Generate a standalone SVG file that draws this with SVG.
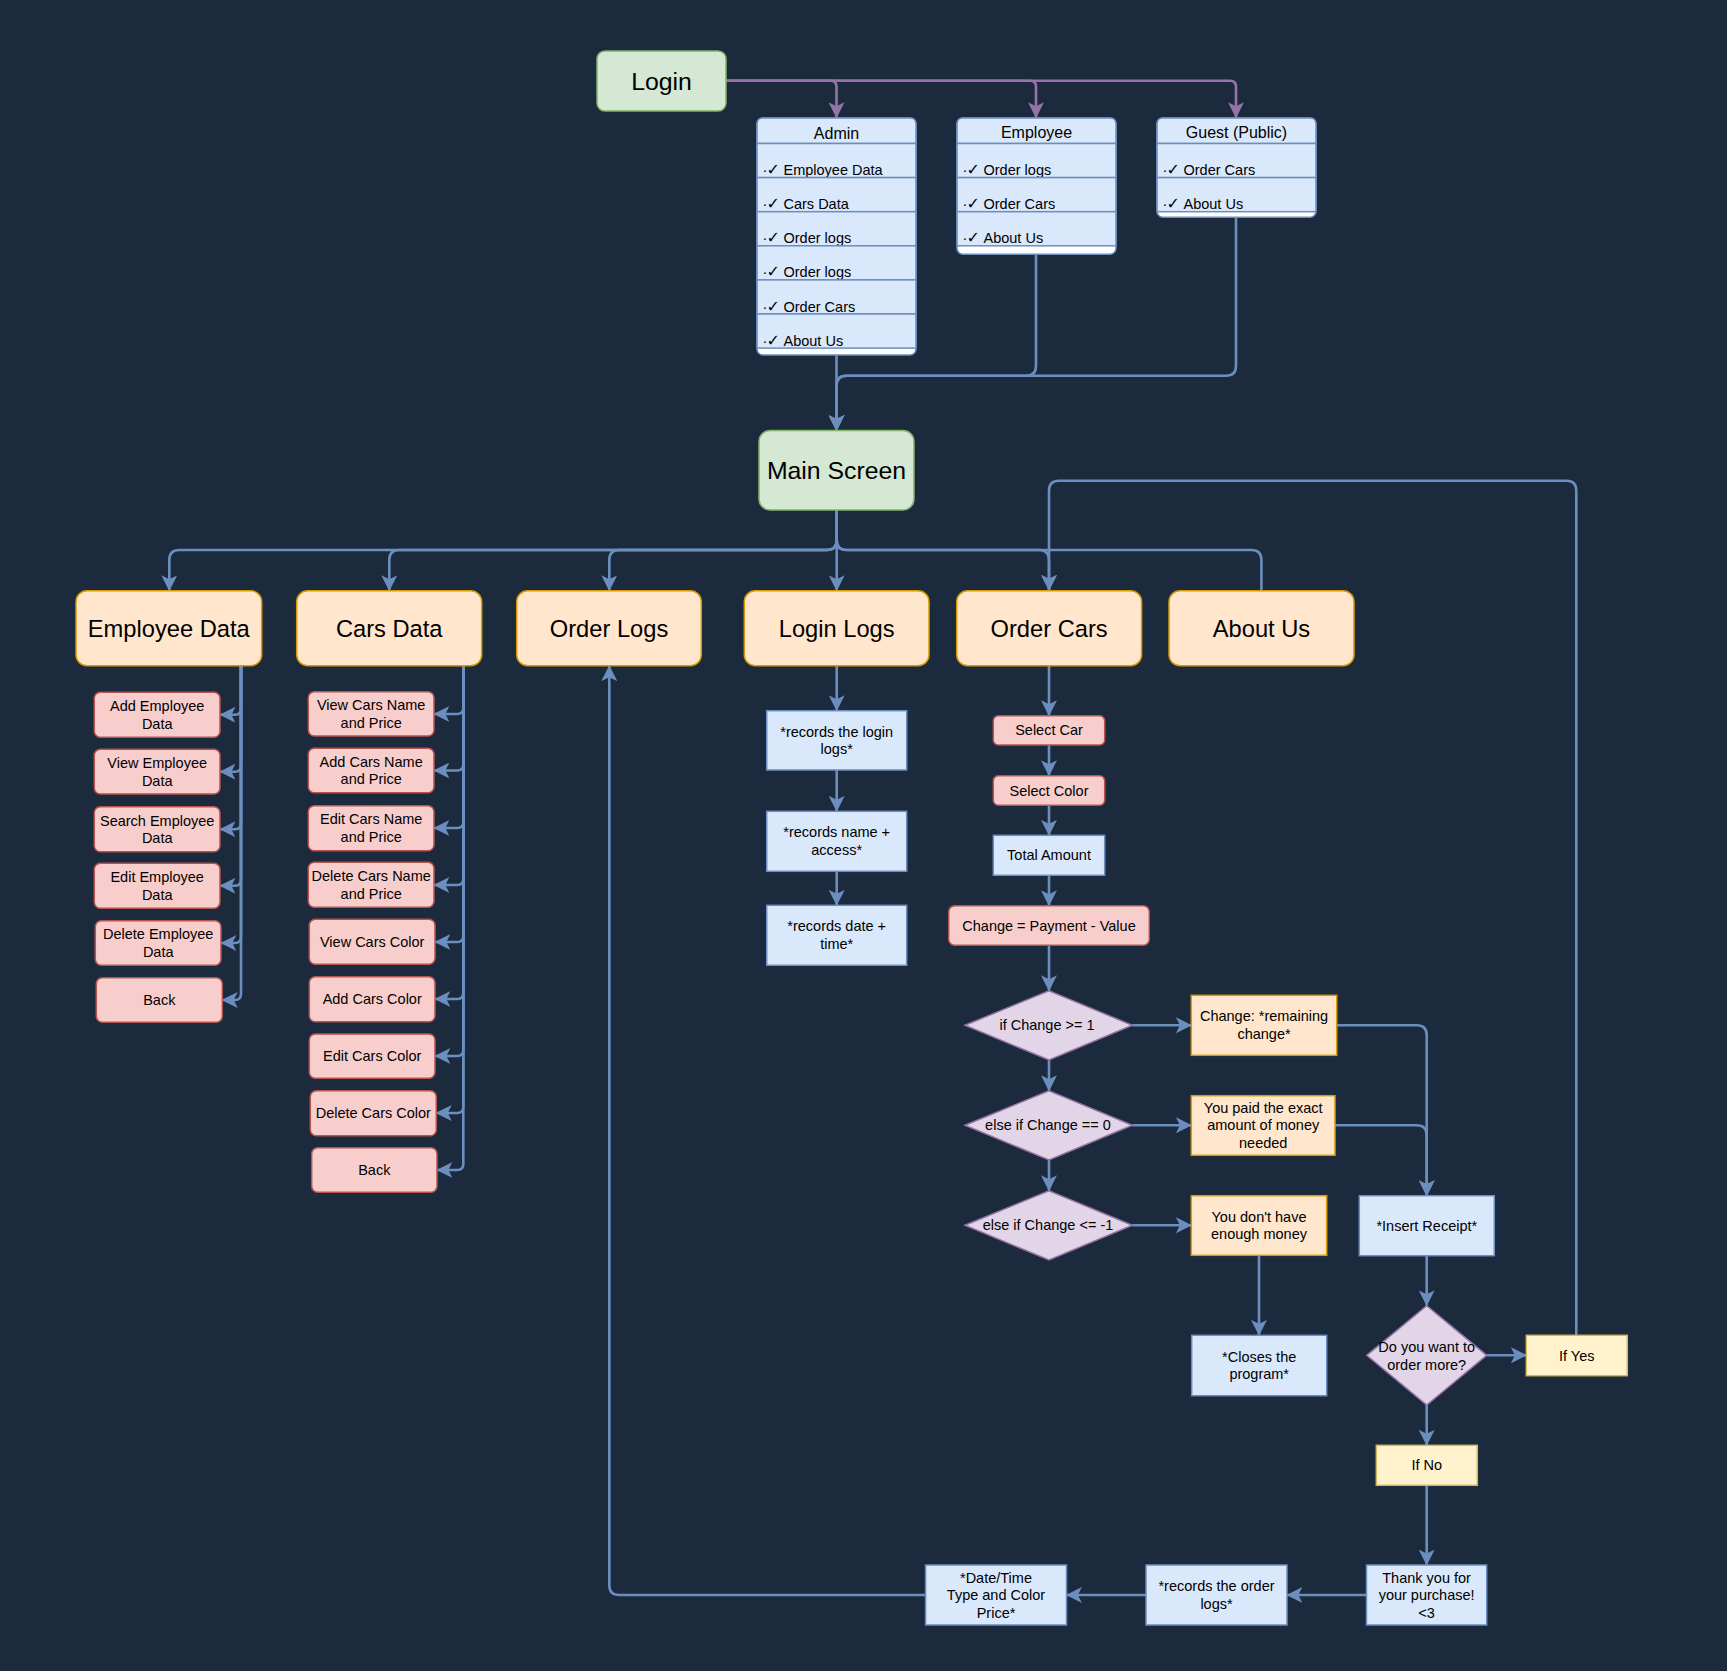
<svg xmlns="http://www.w3.org/2000/svg" width="1727" height="1671" viewBox="0 0 1727 1671">
<style>
text{font-family:"Liberation Sans",Arial,sans-serif;fill:#000;text-anchor:middle}
.s{font-size:14.5px}
.h{font-size:16px}
.cat{font-size:23.7px}
.big{font-size:24.8px}
.ck{font-family:"DejaVu Sans",sans-serif;font-size:16px;font-weight:bold;text-anchor:start}
.lt{font-size:14.5px;text-anchor:start}
.c{fill:none;stroke:#6c8ebf;stroke-width:2.6}
.p{fill:none;stroke:#9673a6;stroke-width:2.6}
.green{fill:#d5e8d4;stroke:#82b366;stroke-width:1.5}
.orange{fill:#ffe6cc;stroke:#d79b00;stroke-width:1.5}
.red{fill:#f8cecc;stroke:#b85450;stroke-width:1.5}
.blue{fill:#dae8fc;stroke:#6c8ebf;stroke-width:1.5}
.purple{fill:#e1d5e7;stroke:#9673a6;stroke-width:1.5}
.yellow{fill:#fff2cc;stroke:#d6b656;stroke-width:1.5}
.white{fill:#ffffff;stroke:#6c8ebf;stroke-width:1.5}
</style>
<defs>
<marker id="ab" markerUnits="userSpaceOnUse" markerWidth="16" markerHeight="16" viewBox="0 0 14 14" refX="13.5" refY="7" orient="auto"><path d="M0,0 L14,7 L0,14 L3.5,7 Z" fill="#6c8ebf"/></marker>
<marker id="ap" markerUnits="userSpaceOnUse" markerWidth="16" markerHeight="16" viewBox="0 0 14 14" refX="13.5" refY="7" orient="auto"><path d="M0,0 L14,7 L0,14 L3.5,7 Z" fill="#9673a6"/></marker>
</defs>
<rect x="0" y="0" width="1727" height="1671" fill="#1b2b3d"/>

<g id="connectors">
<path class="p" marker-end="url(#ap)" d="M726,80.7 H830.5 Q836.5,80.7 836.5,86.7 V117.7"/>
<path class="p" marker-end="url(#ap)" d="M726,80.7 H1030 Q1036,80.7 1036,86.7 V117.7"/>
<path class="p" marker-end="url(#ap)" d="M726,80.7 H1230 Q1236,80.7 1236,86.7 V117.7"/>

<path class="c" marker-end="url(#ab)" d="M836.5,355 V430.5"/>
<path class="c" marker-end="url(#ab)" d="M1036,254.3 V365.7 Q1036,375.7 1026,375.7 H846.5 Q836.5,375.7 836.5,385.7 V430.5"/>
<path class="c" marker-end="url(#ab)" d="M1236,217.3 V365.7 Q1236,375.7 1226,375.7 H846.5 Q836.5,375.7 836.5,385.7 V430.5"/>

<path class="c" marker-end="url(#ab)" d="M836.7,510 V540 Q836.7,550 826.7,550 H179.3 Q169.3,550 169.3,560 V590.7"/>
<path class="c" marker-end="url(#ab)" d="M836.7,510 V540 Q836.7,550 826.7,550 H399.3 Q389.3,550 389.3,560 V590.7"/>
<path class="c" marker-end="url(#ab)" d="M836.7,510 V540 Q836.7,550 826.7,550 H619.3 Q609.3,550 609.3,560 V590.7"/>
<path class="c" marker-end="url(#ab)" d="M836.7,510 V590.7"/>
<path class="c" marker-end="url(#ab)" d="M836.7,510 V540 Q836.7,550 846.7,550 H1039 Q1049,550 1049,560 V590.3"/>
<path class="c" d="M1261.4,590 V560 Q1261.4,550 1251.4,550 H846.7 Q836.7,550 836.7,540 V510"/>
<path class="c" marker-end="url(#ab)" d="M1576.3,1335.3 V490.7 Q1576.3,480.7 1566.3,480.7 H1059 Q1049,480.7 1049,490.7 V590.3"/>

<path class="c" marker-end="url(#ab)" d="M241,665.7 V708.8 Q241,714.8 235,714.8 H220"/>
<path class="c" marker-end="url(#ab)" d="M241,665.7 V765.7 Q241,771.7 235,771.7 H220"/>
<path class="c" marker-end="url(#ab)" d="M241,665.7 V823.2 Q241,829.2 235,829.2 H220"/>
<path class="c" marker-end="url(#ab)" d="M241,665.7 V879.8 Q241,885.8 235,885.8 H220"/>
<path class="c" marker-end="url(#ab)" d="M241,665.7 V937 Q241,943 235,943 H221"/>
<path class="c" marker-end="url(#ab)" d="M241,665.7 V994 Q241,1000 235,1000 H222.3"/>

<path class="c" marker-end="url(#ab)" d="M463.3,665.7 V708 Q463.3,714 457.3,714 H434"/>
<path class="c" marker-end="url(#ab)" d="M463.3,665.7 V764.5 Q463.3,770.5 457.3,770.5 H434"/>
<path class="c" marker-end="url(#ab)" d="M463.3,665.7 V822 Q463.3,828 457.3,828 H434"/>
<path class="c" marker-end="url(#ab)" d="M463.3,665.7 V879 Q463.3,885 457.3,885 H434"/>
<path class="c" marker-end="url(#ab)" d="M463.3,665.7 V936 Q463.3,942 457.3,942 H435"/>
<path class="c" marker-end="url(#ab)" d="M463.3,665.7 V993 Q463.3,999 457.3,999 H435"/>
<path class="c" marker-end="url(#ab)" d="M463.3,665.7 V1050 Q463.3,1056 457.3,1056 H435"/>
<path class="c" marker-end="url(#ab)" d="M463.3,665.7 V1107 Q463.3,1113 457.3,1113 H436.3"/>
<path class="c" marker-end="url(#ab)" d="M463.3,665.7 V1164 Q463.3,1170 457.3,1170 H437"/>

<path class="c" marker-end="url(#ab)" d="M836.7,665.7 V710.7"/>
<path class="c" marker-end="url(#ab)" d="M836.7,770 V811.3"/>
<path class="c" marker-end="url(#ab)" d="M836.7,871.3 V905.3"/>

<path class="c" marker-end="url(#ab)" d="M1049,665.7 V715.7"/>
<path class="c" marker-end="url(#ab)" d="M1049,745 V775.7"/>
<path class="c" marker-end="url(#ab)" d="M1049,805.3 V835.3"/>
<path class="c" marker-end="url(#ab)" d="M1049,875.3 V905.7"/>
<path class="c" marker-end="url(#ab)" d="M1049,945.3 V990.7"/>
<path class="c" marker-end="url(#ab)" d="M1049,1060 V1090.7"/>
<path class="c" marker-end="url(#ab)" d="M1049,1160 V1190.7"/>
<path class="c" marker-end="url(#ab)" d="M1132.3,1025.3 H1191.3"/>
<path class="c" marker-end="url(#ab)" d="M1132.3,1125.3 H1191.3"/>
<path class="c" marker-end="url(#ab)" d="M1132.3,1225.3 H1191.3"/>
<path class="c" marker-end="url(#ab)" d="M1336.7,1025.3 H1416.7 Q1426.7,1025.3 1426.7,1035.3 V1195.7"/>
<path class="c" marker-end="url(#ab)" d="M1335,1125.3 H1416.7 Q1426.7,1125.3 1426.7,1135.3 V1195.7"/>
<path class="c" marker-end="url(#ab)" d="M1259,1255.3 V1335.3"/>
<path class="c" marker-end="url(#ab)" d="M1426.7,1255.7 V1305.7"/>
<path class="c" marker-end="url(#ab)" d="M1486.7,1355.3 H1526.3"/>
<path class="c" marker-end="url(#ab)" d="M1426.7,1405 V1445.3"/>
<path class="c" marker-end="url(#ab)" d="M1426.7,1485.3 V1565"/>
<path class="c" marker-end="url(#ab)" d="M1366.5,1595 H1287"/>
<path class="c" marker-end="url(#ab)" d="M1146,1595 H1066.5"/>
<path class="c" marker-end="url(#ab)" d="M925.6,1595 H619.3 Q609.3,1595 609.3,1585 V665.7"/>
</g>

<g id="login"><rect class="green" x="597" y="51" width="129" height="60" rx="8"/><text class="big" x="661.5" y="89.6">Login</text></g>

<g id="admin">
<rect class="white" x="757" y="118" width="159" height="237" rx="6"/>
<path class="blue" d="M757,143.5 V124 Q757,118 763,118 H910 Q916,118 916,124 V143.5 Z"/>
<text class="h" x="836.5" y="138.5">Admin</text>
<rect class="blue" x="757" y="143.5" width="159" height="34.1"/><text class="lt" x="762.5" y="175.1">·</text><text class="ck" x="766.5" y="175.1">✓</text><text class="lt" x="783.5" y="175.1">Employee Data</text>
<rect class="blue" x="757" y="177.6" width="159" height="34.1"/><text class="lt" x="762.5" y="209.2">·</text><text class="ck" x="766.5" y="209.2">✓</text><text class="lt" x="783.5" y="209.2">Cars Data</text>
<rect class="blue" x="757" y="211.7" width="159" height="34.1"/><text class="lt" x="762.5" y="243.3">·</text><text class="ck" x="766.5" y="243.3">✓</text><text class="lt" x="783.5" y="243.3">Order logs</text>
<rect class="blue" x="757" y="245.8" width="159" height="34.1"/><text class="lt" x="762.5" y="277.4">·</text><text class="ck" x="766.5" y="277.4">✓</text><text class="lt" x="783.5" y="277.4">Order logs</text>
<rect class="blue" x="757" y="279.9" width="159" height="34.1"/><text class="lt" x="762.5" y="311.5">·</text><text class="ck" x="766.5" y="311.5">✓</text><text class="lt" x="783.5" y="311.5">Order Cars</text>
<rect class="blue" x="757" y="314" width="159" height="34.1"/><text class="lt" x="762.5" y="345.6">·</text><text class="ck" x="766.5" y="345.6">✓</text><text class="lt" x="783.5" y="345.6">About Us</text>
</g>

<g id="employee">
<rect class="white" x="957" y="118" width="159" height="136.3" rx="6"/>
<path class="blue" d="M957,143.5 V124 Q957,118 963,118 H1110 Q1116,118 1116,124 V143.5 Z"/>
<text class="h" x="1036.5" y="137.5">Employee</text>
<rect class="blue" x="957" y="143.5" width="159" height="34.1"/><text class="lt" x="962.5" y="175.1">·</text><text class="ck" x="966.5" y="175.1">✓</text><text class="lt" x="983.5" y="175.1">Order logs</text>
<rect class="blue" x="957" y="177.6" width="159" height="34.1"/><text class="lt" x="962.5" y="209.2">·</text><text class="ck" x="966.5" y="209.2">✓</text><text class="lt" x="983.5" y="209.2">Order Cars</text>
<rect class="blue" x="957" y="211.7" width="159" height="34.1"/><text class="lt" x="962.5" y="243.3">·</text><text class="ck" x="966.5" y="243.3">✓</text><text class="lt" x="983.5" y="243.3">About Us</text>
</g>

<g id="guest">
<rect class="white" x="1157" y="118" width="159" height="99.3" rx="6"/>
<path class="blue" d="M1157,143.5 V124 Q1157,118 1163,118 H1310 Q1316,118 1316,124 V143.5 Z"/>
<text class="h" x="1236.5" y="137.5">Guest (Public)</text>
<rect class="blue" x="1157" y="143.5" width="159" height="34.1"/><text class="lt" x="1162.5" y="175.1">·</text><text class="ck" x="1166.5" y="175.1">✓</text><text class="lt" x="1183.5" y="175.1">Order Cars</text>
<rect class="blue" x="1157" y="177.6" width="159" height="34.1"/><text class="lt" x="1162.5" y="209.2">·</text><text class="ck" x="1166.5" y="209.2">✓</text><text class="lt" x="1183.5" y="209.2">About Us</text>
</g>

<g id="main-screen"><rect class="green" x="759" y="430.5" width="155" height="79.5" rx="11"/><text class="big" x="836.5" y="479">Main Screen</text></g>

<g id="employee-data"><rect class="orange" x="76" y="590.7" width="185.7" height="75" rx="11"/><text class="cat" x="168.8" y="636.5">Employee Data</text></g>
<g id="cars-data"><rect class="orange" x="296.7" y="590.7" width="185" height="75" rx="11"/><text class="cat" x="389.2" y="636.5">Cars Data</text></g>
<g id="order-logs"><rect class="orange" x="516.7" y="590.7" width="184.6" height="75" rx="11"/><text class="cat" x="609" y="636.5">Order Logs</text></g>
<g id="login-logs"><rect class="orange" x="744.3" y="590.7" width="184.7" height="75" rx="11"/><text class="cat" x="836.7" y="636.5">Login Logs</text></g>
<g id="order-cars"><rect class="orange" x="956.7" y="590.7" width="184.9" height="75" rx="11"/><text class="cat" x="1049.1" y="636.5">Order Cars</text></g>
<g id="about-us"><rect class="orange" x="1169" y="590.7" width="185" height="75" rx="11"/><text class="cat" x="1261.5" y="636.5">About Us</text></g>

<g id="add-employee"><rect class="red" x="94.3" y="692.3" width="125.7" height="45" rx="6"/><text class="s"><tspan x="157.2" y="711.2">Add Employee</tspan><tspan x="157.2" y="728.7">Data</tspan></text></g>
<g id="view-employee"><rect class="red" x="94.3" y="749.3" width="125.7" height="44.7" rx="6"/><text class="s"><tspan x="157.2" y="768.1">View Employee</tspan><tspan x="157.2" y="785.6">Data</tspan></text></g>
<g id="search-employee"><rect class="red" x="94.3" y="806.7" width="125.7" height="45" rx="6"/><text class="s"><tspan x="157.2" y="825.6">Search Employee</tspan><tspan x="157.2" y="843.1">Data</tspan></text></g>
<g id="edit-employee"><rect class="red" x="94.3" y="863.3" width="125.7" height="45" rx="6"/><text class="s"><tspan x="157.2" y="882.2">Edit Employee</tspan><tspan x="157.2" y="899.7">Data</tspan></text></g>
<g id="delete-employee"><rect class="red" x="95.3" y="920.7" width="125.7" height="44.6" rx="6"/><text class="s"><tspan x="158.2" y="939.4">Delete Employee</tspan><tspan x="158.2" y="956.9">Data</tspan></text></g>
<g id="back-employee"><rect class="red" x="96.3" y="977.7" width="126" height="44.6" rx="6"/><text class="s" x="159.3" y="1005.1">Back</text></g>

<g id="view-cars-name"><rect class="red" x="308.3" y="691.7" width="125.7" height="44.3" rx="6"/><text class="s"><tspan x="371.2" y="710.4">View Cars Name</tspan><tspan x="371.2" y="727.9">and Price</tspan></text></g>
<g id="add-cars-name"><rect class="red" x="308.3" y="748.3" width="125.7" height="44.4" rx="6"/><text class="s"><tspan x="371.2" y="766.9">Add Cars Name</tspan><tspan x="371.2" y="784.4">and Price</tspan></text></g>
<g id="edit-cars-name"><rect class="red" x="308.3" y="805.7" width="125.7" height="45" rx="6"/><text class="s"><tspan x="371.2" y="824.4">Edit Cars Name</tspan><tspan x="371.2" y="841.9">and Price</tspan></text></g>
<g id="delete-cars-name"><rect class="red" x="308.3" y="862.3" width="125.7" height="45" rx="6"/><text class="s"><tspan x="371.2" y="881.1">Delete Cars Name</tspan><tspan x="371.2" y="898.6">and Price</tspan></text></g>
<g id="view-cars-color"><rect class="red" x="309.3" y="919.3" width="125.7" height="45" rx="6"/><text class="s" x="372.2" y="947">View Cars Color</text></g>
<g id="add-cars-color"><rect class="red" x="309.3" y="976.7" width="125.7" height="45" rx="6"/><text class="s" x="372.2" y="1004.3">Add Cars Color</text></g>
<g id="edit-cars-color"><rect class="red" x="309.3" y="1034" width="125.7" height="44.3" rx="6"/><text class="s" x="372.2" y="1061.3">Edit Cars Color</text></g>
<g id="delete-cars-color"><rect class="red" x="310.3" y="1090.7" width="126" height="45" rx="6"/><text class="s" x="373.3" y="1118.3">Delete Cars Color</text></g>
<g id="back-cars"><rect class="red" x="311.7" y="1147.7" width="125.3" height="44.6" rx="6"/><text class="s" x="374.3" y="1175.1">Back</text></g>

<g id="records-login"><rect class="blue" x="766.7" y="710.7" width="140" height="59.3"/><text class="s"><tspan x="836.7" y="736.5">*records the login</tspan><tspan x="836.7" y="754">logs*</tspan></text></g>
<g id="records-name"><rect class="blue" x="766.7" y="811.3" width="140" height="60"/><text class="s"><tspan x="836.7" y="837.4">*records name +</tspan><tspan x="836.7" y="854.9">access*</tspan></text></g>
<g id="records-date"><rect class="blue" x="766.7" y="905.3" width="140" height="60"/><text class="s"><tspan x="836.7" y="931.4">*records date +</tspan><tspan x="836.7" y="948.9">time*</tspan></text></g>

<g id="select-car"><rect class="red" x="993.3" y="715.7" width="111.4" height="29.3" rx="5"/><text class="s" x="1049" y="735.4">Select Car</text></g>
<g id="select-color"><rect class="red" x="993.3" y="775.7" width="111.4" height="29.6" rx="5"/><text class="s" x="1049" y="795.6">Select Color</text></g>
<g id="total-amount"><rect class="blue" x="993.3" y="835.3" width="111.4" height="40"/><text class="s" x="1049" y="860.4">Total Amount</text></g>
<g id="change-calc"><rect class="red" x="948.7" y="905.7" width="200.6" height="39.6" rx="6"/><text class="s" x="1049" y="930.6">Change = Payment - Value</text></g>

<g id="if-change"><polygon class="purple" points="965,1025.3 1049,990.7 1132.3,1025.3 1049,1060"/><text class="s" x="1047" y="1030.4">if Change &gt;= 1</text></g>
<g id="elseif-zero"><polygon class="purple" points="965,1125.3 1049,1090.7 1132.3,1125.3 1049,1160"/><text class="s" x="1048" y="1130.4">else if Change == 0</text></g>
<g id="elseif-neg"><polygon class="purple" points="965,1225.3 1049,1190.7 1132.3,1225.3 1049,1260"/><text class="s" x="1048" y="1230.4">else if Change &lt;= -1</text></g>

<g id="remaining-change"><rect class="orange" x="1191.3" y="995.3" width="145.4" height="60"/><text class="s"><tspan x="1264" y="1021.4">Change: *remaining</tspan><tspan x="1264" y="1038.9">change*</tspan></text></g>
<g id="exact-amount"><rect class="orange" x="1191.3" y="1095.7" width="143.7" height="59.6"/><text class="s"><tspan x="1263.2" y="1112.9">You paid the exact</tspan><tspan x="1263.2" y="1130.4">amount of money</tspan><tspan x="1263.2" y="1147.9">needed</tspan></text></g>
<g id="not-enough"><rect class="orange" x="1191.3" y="1195.7" width="135.4" height="59.6"/><text class="s"><tspan x="1259" y="1221.6">You don't have</tspan><tspan x="1259" y="1239.1">enough money</tspan></text></g>
<g id="closes"><rect class="blue" x="1191.7" y="1335.3" width="135" height="60.4"/><text class="s"><tspan x="1259.2" y="1361.6">*Closes the</tspan><tspan x="1259.2" y="1379.1">program*</tspan></text></g>
<g id="insert-receipt"><rect class="blue" x="1359.3" y="1195.7" width="135" height="60"/><text class="s" x="1426.8" y="1230.8">*Insert Receipt*</text></g>
<g id="order-more"><polygon class="purple" points="1366.7,1355.3 1426.7,1305.7 1486.7,1355.3 1426.7,1405"/><text class="s"><tspan x="1426.7" y="1352">Do you want to</tspan><tspan x="1426.7" y="1369.5">order more?</tspan></text></g>
<g id="if-yes"><rect class="yellow" x="1526.3" y="1335.3" width="101" height="40.4"/><text class="s" x="1576.8" y="1360.6">If Yes</text></g>
<g id="if-no"><rect class="yellow" x="1376.3" y="1445.3" width="101" height="40"/><text class="s" x="1426.8" y="1470.4">If No</text></g>
<g id="thank-you"><rect class="blue" x="1366.5" y="1565" width="120.2" height="60"/><text class="s"><tspan x="1426.6" y="1582.6">Thank you for</tspan><tspan x="1426.6" y="1600.1">your purchase!</tspan><tspan x="1426.6" y="1617.6">&lt;3</tspan></text></g>
<g id="records-order"><rect class="blue" x="1146" y="1565" width="141" height="60"/><text class="s"><tspan x="1216.5" y="1591.1">*records the order</tspan><tspan x="1216.5" y="1608.6">logs*</tspan></text></g>
<g id="date-time"><rect class="blue" x="925.6" y="1565" width="140.9" height="60"/><text class="s"><tspan x="996" y="1582.6">*Date/Time</tspan><tspan x="996" y="1600.1">Type and Color</tspan><tspan x="996" y="1617.6">Price*</tspan></text></g>
</svg>
